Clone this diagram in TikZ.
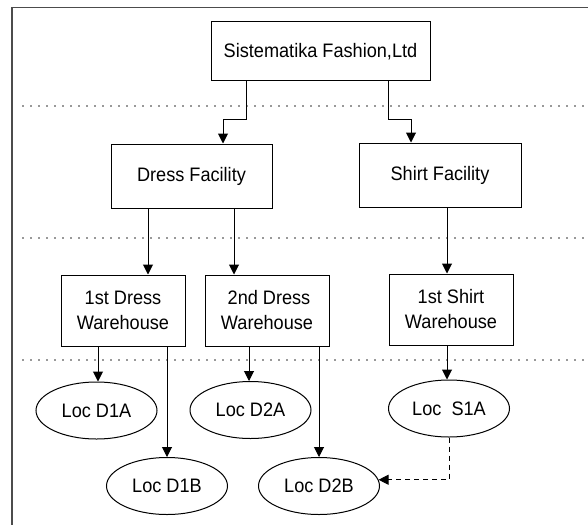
\documentclass[tikz,border=0pt]{standalone}
\usepackage{fontspec}
\setmainfont{Liberation Sans}[FakeStretch=0.93]
\usetikzlibrary{arrows.meta,shapes.geometric}
\begin{document}
\begin{tikzpicture}[x=1pt,y=-1pt,
  font=\fontsize{19.5}{25}\selectfont,
  box/.style={draw=black,line width=1pt,rectangle,inner sep=0pt,align=center},
  oval/.style={draw=black,line width=1pt,ellipse,inner sep=0pt,minimum width=121pt,minimum height=57pt},
  arr/.style={draw=black,line width=1pt,-{Triangle[width=10pt,length=10pt]}},
  darr/.style={arr,dash pattern=on 5pt off 4pt},
  sep/.style={draw=gray!80,line width=1.6pt,dash pattern=on 1.6pt off 6.4pt},
  frame/.style={draw=gray!60!black,line width=1.8pt}]
\useasboundingbox (0,0) rectangle (588,524);
% frame
\draw[frame] (12,530) -- (12,7.5) -- (600,7.5);
% separators
\draw[sep] (22,106) -- (590,106);
\draw[sep] (22,238) -- (590,238);
\draw[sep] (22,360) -- (590,360);
% nodes
\node[box,minimum width=219pt,minimum height=59pt] (top) at (320.5,51.5) {Sistematika Fashion,Ltd};
\node[box,minimum width=161pt,minimum height=64pt] (dress) at (191.5,176) {Dress Facility};
\node[box,minimum width=162pt,minimum height=64pt] (shirt) at (440,175) {Shirt Facility};
\node[box,minimum width=124pt,minimum height=71pt] (w1) at (123,310.5) {1st Dress\\Warehouse};
\node[box,minimum width=124pt,minimum height=71pt] (w2) at (267,310.5) {\hspace{4pt}2nd Dress\\Warehouse};
\node[box,minimum width=124pt,minimum height=71pt] (ws) at (451,309.5) {1st Shirt\hspace{8pt}\\Warehouse};
\node[oval] (d1a) at (96.5,410.5) {Loc D1A};
\node[oval] (d2a) at (250.5,410) {Loc D2A};
\node[oval] (s1a) at (449,408.5) {Loc\ \ S1A};
\node[oval] (d1b) at (167,486) {Loc D1B};
\node[oval] (d2b) at (319,486) {Loc D2B};
% connectors
\draw[arr] ([xshift=-74.5pt]top.south) -- ++(0,37.5) -| ([xshift=31.5pt]dress.north);
\draw[arr] ([xshift=67.5pt]top.south) -- ++(0,37.5) -| ([xshift=-29pt]shirt.north);
\draw[arr] ([xshift=-43.5pt]dress.south) -- ([xshift=-43.5pt]dress.south |- w1.north);
\draw[arr] ([xshift=42.5pt]dress.south) -- ([xshift=42.5pt]dress.south |- w2.north);
\draw[arr] ([xshift=7pt]shirt.south) -- ([xshift=7pt]shirt.south |- ws.north);
\draw[arr] ([xshift=-25pt]w1.south) -- ([xshift=-25pt]w1.south |- d1a.north);
\draw[arr] ([xshift=44pt]w1.south) -- ([xshift=44pt]w1.south |- d1b.north);
\draw[arr] ([xshift=-18pt]w2.south) -- ([xshift=-18pt]w2.south |- d2a.north);
\draw[arr] ([xshift=52pt]w2.south) -- ([xshift=52pt]w2.south |- d2b.north);
\draw[arr] ([xshift=-4pt]ws.south) -- ([xshift=-4pt]ws.south |- s1a.north);
\draw[darr] (s1a.south) |- (d2b.6);
\end{tikzpicture}
\end{document}
